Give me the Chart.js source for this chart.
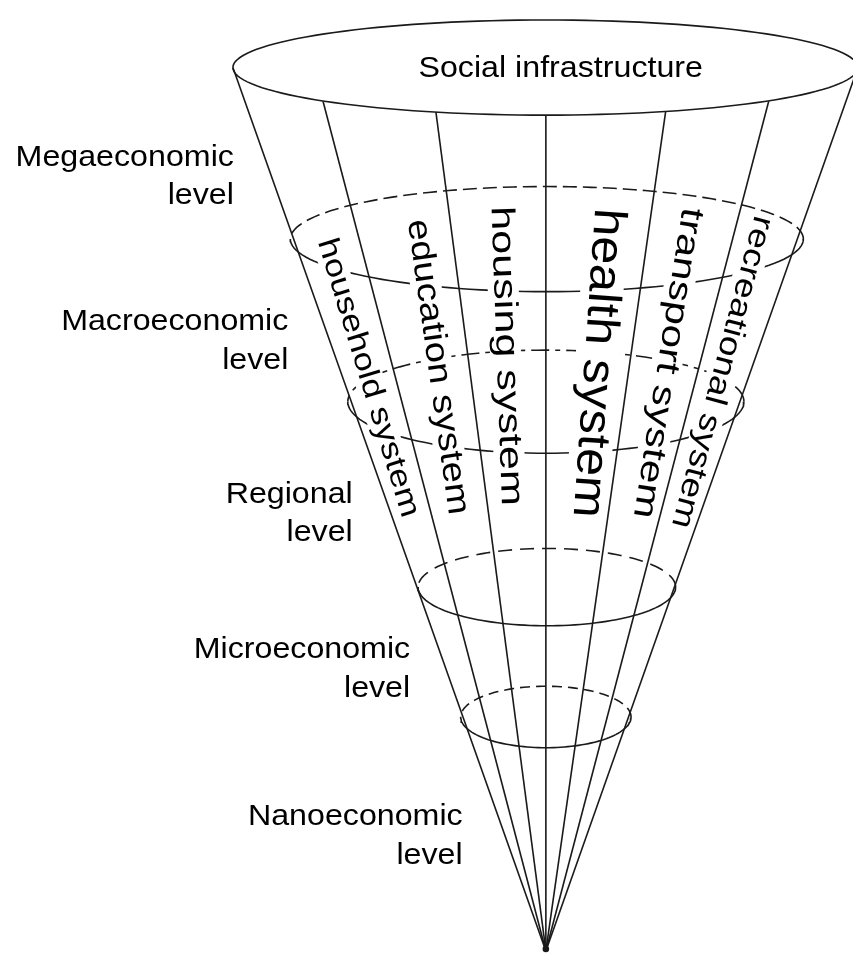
<!DOCTYPE html>
<html>
<head>
<meta charset="utf-8">
<script src="https://cdn.jsdelivr.net/npm/chart.js@4.4.0/dist/chart.umd.min.js"></script>
<style>
  html, body { margin: 0; padding: 0; background: #fff; }
  #wrap { width: 857px; height: 963px; }
</style>
</head>
<body>
<div id="wrap"><canvas id="cone" width="857" height="963"></canvas></div>
<script>
// Cone diagram, values (x to the right, y downwards)
const apex = [547, 955];
const spokeTopX = [231, 322, 436, 547, 668, 772, 862];
const spokeTopY = [64, 98, 109, 112, 108, 98, 64];

// top rim + the four level rings
const ringCx = [546.5, 548, 547, 548, 547];
const ringCy = [64, 237, 401, 588, 719];
const ringRx = [315.5, 259, 200, 130, 86];
const ringRy = [48, 53, 52, 39, 31];

// texts
const rimTitle = 'Social infrastructure';
const levelNames = ['Megaeconomic', 'Macroeconomic', 'Regional', 'Microeconomic', 'Nanoeconomic'];
const levelWord = 'level';
const systemNames = ['household system', 'education system', 'housing system',
                     'health system', 'transport system', 'recreational system'];

// layout of the texts
const titlePos = [562, 74];
const levelLabelX = [232, 287, 352, 410, 463];   // right edge
const levelLabelY = [163, 329, 503, 660, 828];   // baseline of first line
const systemX = [367, 437, 506, 598, 669, 724];
const systemY = [377, 366, 355, 362, 362, 371];
const systemAngle = [73, 82, 88, 94, 99, 105];
const systemLen = [290, 298, 300, 310, 314, 322];
const systemFont = [30, 33, 33, 46, 33, 31];

const ink = '#1a1a1a';
const backDash = [[], [14, 6], [18, 6, 5, 6], [14, 8], [10, 6]];
const FONT = '"Liberation Sans", Arial, sans-serif';

// half of a ring, back = upper half
function ringArc(i, back) {
    let pts = [];
    for (let k = 0; k <= 72; k++) {
        let t = Math.PI * k / 72;
        pts.push({
            x: ringCx[i] + ringRx[i] * Math.cos(t),
            y: ringCy[i] + (back ? -1 : 1) * ringRy[i] * Math.sin(t)
        });
    }
    return pts;
}

let datasets = [];

// rings (drawn first)
for (let i = 0; i < ringCx.length; i++) {
    datasets.push({ kind: 'ring', data: ringArc(i, true), borderDash: backDash[i], order: 1 });
    datasets.push({ kind: 'ring', data: ringArc(i, false), borderDash: [], order: 1 });
}

// spokes from the rim down to the apex
for (let i = 0; i < spokeTopX.length; i++) {
    datasets.push({
        kind: 'spoke',
        data: [{ x: spokeTopX[i], y: spokeTopY[i] }, { x: apex[0], y: apex[1] }],
        order: 0
    });
}
datasets.push({ kind: 'spoke', data: [{ x: apex[0], y: apex[1] - 2 }], pointRadius: 2.5, order: 0 });

datasets.forEach(ds => {
    ds.showLine = true;
    ds.borderColor = ink;
    ds.backgroundColor = ink;
    ds.borderWidth = 1.6;
    ds.tension = 0;
    if (ds.pointRadius === undefined) ds.pointRadius = 0;
    ds.pointHoverRadius = 0;
});

function drawText(ctx, text, x, y, align, stretch) {
    ctx.save();
    ctx.translate(x, y);
    ctx.scale(stretch, 1);
    ctx.textAlign = align;
    ctx.fillText(text, 0, 0);
    ctx.restore();
}

function drawLabels(chart) {
    const ctx = chart.ctx;
    const xs = chart.scales.x, ys = chart.scales.y;
    ctx.save();
    ctx.fillStyle = '#000';
    ctx.textBaseline = 'alphabetic';

    // horizontal labels
    ctx.font = '29px ' + FONT;
    drawText(ctx, rimTitle, xs.getPixelForValue(titlePos[0]), ys.getPixelForValue(titlePos[1]), 'center', 1.11);
    for (let i = 0; i < levelNames.length; i++) {
        let x = xs.getPixelForValue(levelLabelX[i]);
        drawText(ctx, levelNames[i], x, ys.getPixelForValue(levelLabelY[i]), 'right', 1.11);
        drawText(ctx, levelWord, x, ys.getPixelForValue(levelLabelY[i] + 39), 'right', 1.11);
    }

    // system names along the cone, white box behind them hides the rings
    for (let i = 0; i < systemNames.length; i++) {
        let f = systemFont[i];
        ctx.font = f + 'px ' + FONT;
        let w = ctx.measureText(systemNames[i]).width;
        let sx = systemLen[i] / w;
        ctx.save();
        ctx.translate(xs.getPixelForValue(systemX[i]), ys.getPixelForValue(systemY[i]));
        ctx.rotate(systemAngle[i] * Math.PI / 180);
        ctx.scale(sx, 1);
        ctx.fillStyle = '#fff';
        ctx.fillRect(-w / 2 - 3, -0.48 * f, w + 6, 0.94 * f);
        ctx.fillStyle = '#000';
        ctx.textAlign = 'center';
        ctx.fillText(systemNames[i], 0, 0.26 * f);
        ctx.restore();
    }
    ctx.restore();
}

const labelPlugin = {
    id: 'coneLabels',
    beforeDatasetsDraw(chart) { chart.$labelsDone = false; },
    beforeDatasetDraw(chart, args) {
        if (!chart.$labelsDone && chart.data.datasets[args.index].kind === 'spoke') {
            drawLabels(chart);
            chart.$labelsDone = true;
        }
    },
    afterDatasetsDraw(chart) {
        if (!chart.$labelsDone) drawLabels(chart);
    }
};

new Chart(document.getElementById('cone').getContext('2d'), {
    type: 'scatter',
    data: { datasets: datasets },
    options: {
        responsive: false,
        animation: false,
        devicePixelRatio: 1,
        layout: { padding: 0 },
        plugins: { legend: { display: false }, tooltip: { enabled: false } },
        scales: {
            x: { type: 'linear', min: 0, max: 857, display: false },
            y: { type: 'linear', min: 0, max: 963, reverse: true, display: false }
        }
    },
    plugins: [labelPlugin]
});
</script>
</body>
</html>
